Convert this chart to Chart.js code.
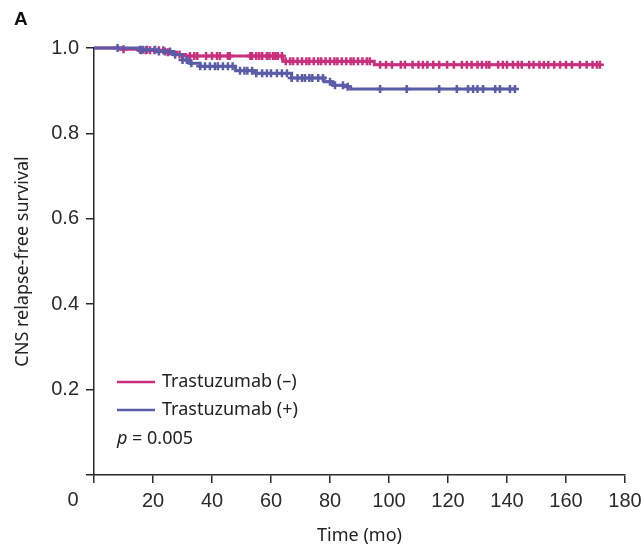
<!DOCTYPE html>
<html>
<head>
<meta charset="utf-8">
<script src="https://cdn.jsdelivr.net/npm/chart.js@4.4.1/dist/chart.umd.min.js"></script>
<style>
    body { margin: 0; background: #fff; }
</style>
</head>
<body>
<canvas id="kmChart" width="642" height="547"></canvas>
<script>
// Kaplan-Meier data (time in months)
const xTicks = [0, 20, 40, 60, 80, 100, 120, 140, 160, 180];
const yTicks = [0, 0.2, 0.4, 0.6, 0.8, 1.0];

const seriesLabels = ["Trastuzumab (\u2013)", "Trastuzumab (+)"];

// Trastuzumab (-) step curve
const negTimes = [0, 9, 15, 24, 28, 31, 64, 95, 171.5];
const negSurv = [1.0, 0.997, 0.995, 0.99, 0.985, 0.981, 0.969, 0.961, 0.961];
const negCensor = [10, 16, 17.5, 19, 20.5, 22, 23.5, 25, 29, 32.5, 34, 35, 38, 40, 41.7, 42.7, 45.4, 46,
    53, 53.6, 55, 56, 57, 58.6, 59.5, 60.7, 61.5, 62.3, 63.7, 65, 66.5, 67.5, 69, 70.5, 72, 73, 74.5, 76,
    77, 78.5, 80, 81.5, 82.5, 84, 85.5, 87, 88, 89.5, 91, 92.5, 93.5, 97, 99, 101, 104, 105.4, 108, 110,
    111.5, 113, 115, 117, 119.7, 122, 124.7, 126.4, 128, 130, 131.5, 133, 134, 137, 138.6, 140, 142,
    143.7, 145, 147.5, 149, 151, 152.5, 154, 156, 158, 160, 162, 164.7, 167, 169, 170.5, 171.5];

// Trastuzumab (+) step curve
const posTimes = [0, 15, 21, 27, 30, 32.5, 36, 48, 55, 67, 78, 81, 85, 87, 142.7];
const posSurv = [1.0, 0.996, 0.992, 0.984, 0.972, 0.964, 0.957, 0.947, 0.941, 0.93, 0.921, 0.913, 0.909, 0.904, 0.904];
const posCensor = [8, 15.6, 16.5, 18, 20.7, 22, 24, 25.8, 27.5, 30, 31.5, 33, 36, 37.6, 39.3, 41, 42, 43.7, 45.4,
    47, 49.5, 51, 52, 53.6, 55, 57, 58.6, 60, 62, 63.7, 65.4, 67, 69, 70.5, 71.5, 73, 74, 76, 77.6, 80, 81.7,
    84.4, 86, 97, 106, 117, 123, 126.8, 128.5, 130, 131.9, 136, 137.6, 141, 142.7];

const pValue = "0.005";

const pink = "#c92f7c";
const blue = "#5b5ca8";
const axisColor = "#2a2a2a";

function toPoints(times, surv) {
    return times.map((t, i) => ({ x: t, y: surv[i] }));
}

// survival level at a censor time = last step at or before it
function censorPoints(censor, times, surv) {
    return censor.map((t) => {
        let y = surv[0];
        times.forEach((st, i) => { if (st <= t) y = surv[i]; });
        return { x: t, y };
    });
}

// extra text: panel letter, shared "0" label, legend and p value
const annotations = {
    id: "annotations",
    afterDraw(chart) {
        const ctx = chart.ctx;
        const xs = chart.scales.x;
        ctx.save();
        ctx.fillStyle = "#111";
        ctx.font = "bold 19px 'Liberation Sans', Arial, sans-serif";
        ctx.textBaseline = "middle";
        ctx.textAlign = "left";
        ctx.fillText("A", 14, 20);

        ctx.fillStyle = axisColor;
        ctx.font = "20px 'Liberation Sans', Arial, sans-serif";
        ctx.textAlign = "center";
        ctx.fillText("0", xs.getPixelForValue(0) - 21, 500);

        // legend
        const rows = [[seriesLabels[0], pink, 382], [seriesLabels[1], blue, 410]];
        rows.forEach(([label, color, y]) => {
            ctx.strokeStyle = color;
            ctx.lineWidth = 2.5;
            ctx.beginPath();
            ctx.moveTo(117, y);
            ctx.lineTo(155, y);
            ctx.stroke();
            ctx.fillStyle = "#222";
            ctx.font = "18px 'Noto Sans', sans-serif";
            ctx.textAlign = "left";
            ctx.fillText(label, 162, y);
        });
        ctx.font = "italic 18px 'Noto Sans', sans-serif";
        ctx.fillText("p", 117, 439);
        const pw = ctx.measureText("p").width;
        ctx.font = "18px 'Noto Sans', sans-serif";
        ctx.fillText(" = " + pValue, 117 + pw, 439);
        ctx.restore();
    }
};

const ctx = document.getElementById("kmChart").getContext("2d");
new Chart(ctx, {
    type: "line",
    data: {
        datasets: [
            {
                label: seriesLabels[1],
                data: toPoints(posTimes, posSurv),
                borderColor: blue,
                borderWidth: 3,
                stepped: true,
                pointRadius: 0,
                clip: false,
                order: 1
            },
            {
                label: seriesLabels[1] + " censored",
                type: "scatter",
                data: censorPoints(posCensor, posTimes, posSurv),
                pointStyle: "cross",
                pointRadius: 4,
                borderColor: blue,
                borderWidth: 2.5,
                clip: false,
                order: 0
            },
            {
                label: seriesLabels[0],
                data: toPoints(negTimes, negSurv),
                borderColor: pink,
                borderWidth: 3,
                stepped: true,
                pointRadius: 0,
                clip: false,
                order: 3
            },
            {
                label: seriesLabels[0] + " censored",
                type: "scatter",
                data: censorPoints(negCensor, negTimes, negSurv),
                pointStyle: "cross",
                pointRadius: 4,
                borderColor: pink,
                borderWidth: 2.5,
                clip: false,
                order: 2
            }
        ]
    },
    options: {
        responsive: false,
        animation: false,
        layout: { padding: { top: 48, right: 17, left: 0, bottom: 0 } },
        plugins: {
            legend: { display: false },
            tooltip: { enabled: false }
        },
        scales: {
            x: {
                type: "linear",
                min: 0,
                max: 180,
                afterFit: (scale) => {
                    scale.height = 72;
                    scale.paddingLeft = 0;
                    scale.paddingRight = 0;
                },
                afterBuildTicks: (scale) => { scale.ticks = xTicks.map((v) => ({ value: v })); },
                ticks: {
                    padding: 6,
                    color: axisColor,
                    font: { family: "'Liberation Sans', Arial, sans-serif", size: 20 },
                    callback: (v) => (v === 0 ? "" : v)
                },
                grid: { drawOnChartArea: false, drawTicks: true, tickLength: 8, color: axisColor, lineWidth: 1.5 },
                border: { display: true, color: axisColor, width: 1.5 },
                title: {
                    display: true,
                    text: "Time (mo)",
                    color: "#222",
                    font: { family: "'Noto Sans', sans-serif", size: 18 },
                    padding: { top: 0, bottom: 0 }
                }
            },
            y: {
                min: 0,
                max: 1,
                afterFit: (scale) => {
                    scale.width = 94;
                    scale.paddingTop = 0;
                    scale.paddingBottom = 0;
                },
                afterBuildTicks: (scale) => { scale.ticks = yTicks.map((v) => ({ value: v })); },
                ticks: {
                    padding: 7,
                    color: axisColor,
                    font: { family: "'Liberation Sans', Arial, sans-serif", size: 20 },
                    callback: (v) => (v === 0 ? "" : v.toFixed(1))
                },
                grid: { drawOnChartArea: false, drawTicks: true, tickLength: 8, color: axisColor, lineWidth: 1.5 },
                border: { display: true, color: axisColor, width: 1.5 },
                title: {
                    display: true,
                    text: "CNS relapse-free survival",
                    color: "#222",
                    font: { family: "'Noto Sans', sans-serif", size: 18 },
                    padding: { top: 12, bottom: 0 }
                }
            }
        }
    },
    plugins: [annotations]
});
</script>
</body>
</html>
